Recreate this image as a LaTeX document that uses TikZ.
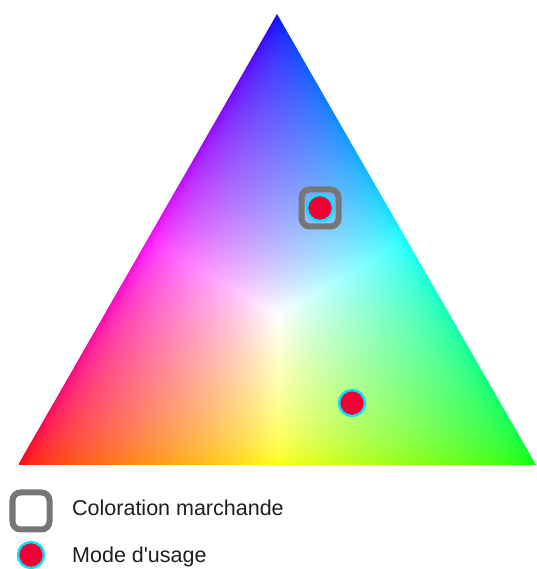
\documentclass[tikz,border=0pt]{standalone}
\usepackage{fontspec}
\setmainfont{Liberation Sans}
\pgfdeclarefunctionalshading{ternary}{\pgfpointorigin}{\pgfpoint{518bp}{451bp}}{}{
  451 div dup 259 mul 3 -1 roll exch sub 518 div 2 copy add 1 exch sub
  3 copy 2 copy lt {exch} if pop 2 copy lt {exch} if pop
  4 1 roll 3 index div exch 3 index div 3 -1 roll 3 index div 4 -1 roll pop
  dup 0 lt {pop 0} if sqrt 3 1 roll
  dup 0 lt {pop 0} if sqrt 3 1 roll
  dup 0 lt {pop 0} if sqrt 3 1 roll
}
\definecolor{dotred}{RGB}{240,0,52}
\definecolor{dotcyan}{RGB}{0,228,255}
\definecolor{framegray}{RGB}{118,118,118}
\definecolor{txt}{RGB}{30,30,30}
\tikzset{
  usedot/.style={circle, fill=dotred, draw=dotcyan, line width=2.4bp, minimum size=26bp, inner sep=0pt},
  framebox/.style={draw=framegray, line width=6bp, rounded corners=8bp, minimum size=37bp, inner sep=0pt},
  legtext/.style={anchor=base west, inner sep=0pt, text=txt, font=\fontsize{21.5bp}{26bp}\selectfont}
}
\begin{document}
\begin{tikzpicture}[x=1bp,y=1bp]
\useasboundingbox (0,0) rectangle (537,569);
\coordinate (R) at (18,104);
\coordinate (G) at (536,104);
\coordinate (B) at (277,555);
\begin{scope}
  \clip (R) -- (G) -- (B) -- cycle;
  \node[inner sep=0pt, outer sep=0pt, anchor=south west] (shade) at (R) {\pgfuseshading{ternary}};
\end{scope}
\node[framebox] (box1) at (320,361) {};
\node[usedot] (dot1) at (320,361) {};
\node[usedot] (dot2) at (352,166) {};
\node[framebox] (legbox) at (31,58) {};
\node[usedot] (legdot) at (31,14) {};
\node[legtext] (leg1) at (72,53) {Coloration marchande};
\node[legtext] (leg2) at (72,6) {Mode d\textquotesingle usage};
\end{tikzpicture}
\end{document}
